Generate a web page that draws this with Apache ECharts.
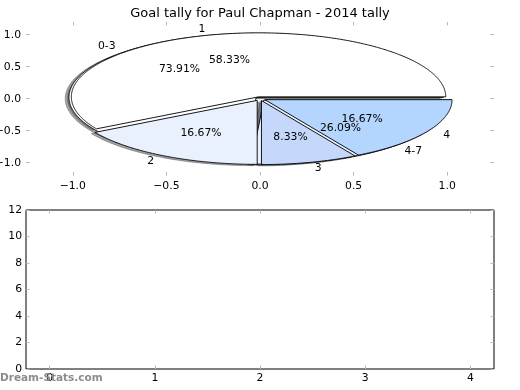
<!DOCTYPE html>
<html><head><meta charset="utf-8">
<script src="https://cdn.jsdelivr.net/npm/echarts@6/dist/echarts.min.js"></script>
<style>html,body{margin:0;padding:0;background:#fff}#c{width:520px;height:390px}</style>
</head><body><div id="c"></div>
<script>
// ---- data ----
const titleText = 'Goal tally for Paul Chapman - 2014 tally';
const outerLabels = ['1', '2', '3', '4'];
const outerValues = [7, 2, 1, 2];
const innerLabels = ['0-3', '4-7'];
const innerValues = [17, 6];
const pieXTicks = [-1, -0.5, 0, 0.5, 1];
const pieYTicks = [-1, -0.5, 0, 0.5, 1];
const barXTicks = [0, 1, 2, 3, 4];
const barYTicks = [0, 2, 4, 6, 8, 10, 12];
const barValues = [];

// ---- styles ----
const outerColors = ['#ffffff', '#e9f0fe', '#c5d8fb', '#b3d5fe'];
const innerColors = ['#ffffff', '#e9f0fe'];
const EXPLODE = 0.03;
const FONT = 'DejaVu Sans';
const FS = 10.8;
const TICK = '#b8b8b8';

function wedges(values) {
  const total = values.reduce((a, b) => a + b, 0);
  let acc = 0;
  return values.map((v, i) => {
    const s = acc / total * 360; acc += v; const e = acc / total * 360;
    return [s, e, v / total * 100, i];
  });
}
function hexRgb(h) { return [parseInt(h.slice(1,3),16), parseInt(h.slice(3,5),16), parseInt(h.slice(5,7),16)]; }

function wedgeRender(colors, shadow) {
  return function (params, api) {
    const s = api.value(0) * Math.PI / 180, e = api.value(1) * Math.PI / 180;
    const m = (s + e) / 2;
    const off = shadow ? -0.02 : 0;
    const cx = EXPLODE * Math.cos(m) + off, cy = EXPLODE * Math.sin(m) + off;
    const pts = [api.coord([cx, cy])];
    const n = Math.max(4, Math.ceil((e - s) / (Math.PI / 360)));
    for (let k = 0; k <= n; k++) {
      const a = s + (e - s) * k / n;
      pts.push(api.coord([cx + Math.cos(a), cy + Math.sin(a)]));
    }
    const col = colors[api.value(3)];
    let style;
    if (shadow) {
      const c = hexRgb(col).map(x => Math.round(x * 0.3));
      const rgba = 'rgba(' + c.join(',') + ',0.5)';
      style = { fill: rgba, stroke: rgba, lineWidth: 0.9 };
    } else {
      style = { fill: col, stroke: '#000', lineWidth: 0.9 };
    }
    return { type: 'polygon', shape: { points: pts }, style: style };
  };
}
function textRender(labels) {
  return function (params, api) {
    const s = api.value(0) * Math.PI / 180, e = api.value(1) * Math.PI / 180;
    const m = (s + e) / 2;
    const cx = EXPLODE * Math.cos(m), cy = EXPLODE * Math.sin(m);
    const lx = cx + 1.1 * Math.cos(m), ly = cy + 1.1 * Math.sin(m);
    const px = cx + 0.6 * Math.cos(m), py = cy + 0.6 * Math.sin(m);
    const lp = api.coord([lx, ly]), pp = api.coord([px, py]);
    return {
      type: 'group', children: [
        { type: 'text', x: lp[0], y: lp[1], style: { text: labels[api.value(3)], fill: '#000', font: FS + 'px "' + FONT + '"', align: lx > 0 ? 'left' : 'right', verticalAlign: 'middle' } },
        { type: 'text', x: pp[0], y: pp[1], style: { text: api.value(2).toFixed(2) + '%', fill: '#000', font: FS + 'px "' + FONT + '"', align: 'center', verticalAlign: 'middle' } }
      ]
    };
  };
}

const outerData = wedges(outerValues);
const innerData = wedges(innerValues);

const minusFmt = v => (v < 0 ? '\u2212' : '') + Math.abs(v).toFixed(1);
const tickStyle = { show: true, inside: true, length: 3.5, lineStyle: { color: TICK, width: 1 } };
const labelStyle = { color: '#000', fontFamily: FONT, fontSize: FS };
const noLine = { show: false, onZero: false };

const chart = echarts.init(document.getElementById('c'), null, { renderer: 'canvas' });
chart.setOption({
  animation: false,
  backgroundColor: '#fff',
  title: { text: titleText, left: 'center', top: 2, textStyle: { fontFamily: FONT, fontSize: 13, fontWeight: 'normal', color: '#000' } },
  grid: [
    { left: 26, width: 468, top: 21.9, height: 153.6, show: false, containLabel: false, outerBoundsMode: 'none' },
    { left: 26, width: 468, top: 210, height: 159, show: true, borderColor: '#000', borderWidth: 1, backgroundColor: 'transparent', containLabel: false, outerBoundsMode: 'none' }
  ],
  xAxis: [
    { type: 'value', gridIndex: 0, min: -1.25, max: 1.25, position: 'bottom', axisLine: noLine, splitLine: { show: false },
      axisTick: Object.assign({ customValues: pieXTicks }, tickStyle),
      axisLabel: Object.assign({ customValues: pieXTicks, formatter: minusFmt, margin: 5 }, labelStyle) },
    { type: 'value', gridIndex: 0, min: -1.25, max: 1.25, position: 'top', axisLine: noLine, splitLine: { show: false },
      axisTick: Object.assign({ customValues: pieXTicks }, tickStyle), axisLabel: { show: false } },
    { type: 'value', gridIndex: 1, min: -0.225, max: 4.225, position: 'bottom', axisLine: noLine, splitLine: { show: false },
      axisTick: Object.assign({ customValues: barXTicks }, tickStyle),
      axisLabel: Object.assign({ customValues: barXTicks, margin: 4 }, labelStyle) },
    { type: 'value', gridIndex: 1, min: -0.225, max: 4.225, position: 'top', axisLine: noLine, splitLine: { show: false },
      axisTick: Object.assign({ customValues: barXTicks }, tickStyle), axisLabel: { show: false } }
  ],
  yAxis: [
    { type: 'value', gridIndex: 0, min: -1.2, max: 1.2, position: 'left', axisLine: noLine, splitLine: { show: false },
      axisTick: Object.assign({ customValues: pieYTicks }, tickStyle),
      axisLabel: Object.assign({ customValues: pieYTicks, formatter: minusFmt, margin: 5 }, labelStyle) },
    { type: 'value', gridIndex: 0, min: -1.2, max: 1.2, position: 'right', axisLine: noLine, splitLine: { show: false },
      axisTick: Object.assign({ customValues: pieYTicks }, tickStyle), axisLabel: { show: false } },
    { type: 'value', gridIndex: 1, min: 0, max: 12, position: 'left', axisLine: noLine, splitLine: { show: false },
      axisTick: Object.assign({ customValues: barYTicks }, tickStyle),
      axisLabel: Object.assign({ customValues: barYTicks, margin: 4 }, labelStyle) },
    { type: 'value', gridIndex: 1, min: 0, max: 12, position: 'right', axisLine: noLine, splitLine: { show: false },
      axisTick: Object.assign({ customValues: barYTicks }, tickStyle), axisLabel: { show: false } }
  ],
  series: [
    { type: 'custom', name: 'innerShadow', xAxisIndex: 0, yAxisIndex: 0, z: 1, renderItem: wedgeRender(innerColors, true), data: innerData },
    { type: 'custom', name: 'outerShadow', xAxisIndex: 0, yAxisIndex: 0, z: 1, renderItem: wedgeRender(outerColors, true), data: outerData },
    { type: 'custom', name: 'inner', xAxisIndex: 0, yAxisIndex: 0, z: 2, renderItem: wedgeRender(innerColors, false), data: innerData },
    { type: 'custom', name: 'outer', xAxisIndex: 0, yAxisIndex: 0, z: 3, renderItem: wedgeRender(outerColors, false), data: outerData },
    { type: 'custom', name: 'innerText', xAxisIndex: 0, yAxisIndex: 0, z: 4, renderItem: textRender(innerLabels), data: innerData },
    { type: 'custom', name: 'outerText', xAxisIndex: 0, yAxisIndex: 0, z: 4, renderItem: textRender(outerLabels), data: outerData },
    { type: 'bar', xAxisIndex: 2, yAxisIndex: 2, data: barValues }
  ],
  graphic: [
    { type: 'text', left: 0, top: 373, z: 10, style: { text: 'Dream-Stats.com', fill: '#8c8c8c', font: 'bold 10.5px "' + FONT + '"' } }
  ]
});
</script>
</body></html>
